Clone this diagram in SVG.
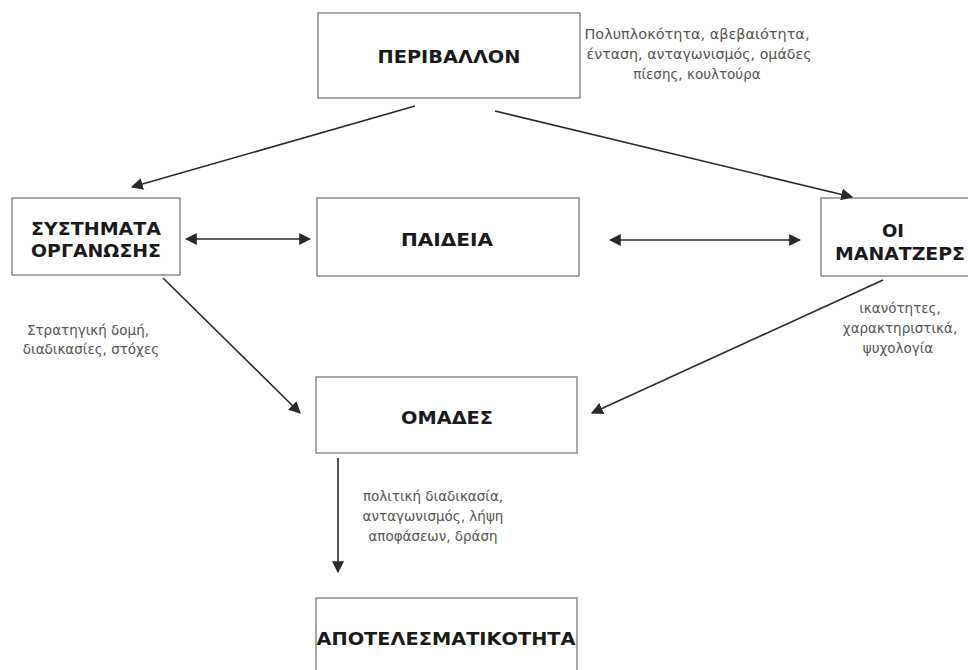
<svg xmlns="http://www.w3.org/2000/svg" width="968" height="670" viewBox="0 0 968 670">
<defs>
<style>
.box{fill:#fff;stroke:#8c8c8c;stroke-width:1.5}
.t{font-family:"DejaVu Sans","Noto Sans",sans-serif;font-weight:bold;font-size:18px;fill:#1a1a1a;text-anchor:middle}
.s{font-family:"DejaVu Sans","Noto Sans",sans-serif;font-size:13.5px;fill:#555;text-anchor:middle}
.c{stroke:#2a2a2a;stroke-width:1.6;fill:none}
</style>
<marker id="ah2" viewBox="0 0 10 10" refX="9" refY="5" markerWidth="12" markerHeight="12" markerUnits="userSpaceOnUse" orient="auto-start-reverse">
<path d="M0,0 L10,5 L0,10 z" fill="#2a2a2a"/>
</marker>
</defs>
<rect width="968" height="670" fill="#fff"/>

<g id="perivallon">
<rect class="box" x="318" y="13" width="262" height="85"/>
<text class="t" x="449" y="63" textLength="143" lengthAdjust="spacingAndGlyphs">ΠΕΡΙΒΑΛΛΟΝ</text>
</g>
<g id="perivallon-note">
<text class="s" x="697" y="39" textLength="225" lengthAdjust="spacingAndGlyphs">Πολυπλοκότητα, αβεβαιότητα,</text>
<text class="s" x="699" y="59" textLength="225" lengthAdjust="spacingAndGlyphs">ένταση, ανταγωνισμός, ομάδες</text>
<text class="s" x="697" y="79">πίεσης, κουλτούρα</text>
</g>

<g id="systimata">
<rect class="box" x="12" y="198" width="168" height="77"/>
<text class="t" x="96" y="235" textLength="130" lengthAdjust="spacingAndGlyphs">ΣΥΣΤΗΜΑΤΑ</text>
<text class="t" x="96" y="257" textLength="130" lengthAdjust="spacingAndGlyphs">ΟΡΓΑΝΩΣΗΣ</text>
</g>
<g id="systimata-note">
<text class="s" x="88" y="335">Στρατηγική δομή,</text>
<text class="s" x="91" y="354">διαδικασίες, στόχες</text>
</g>

<g id="paideia">
<rect class="box" x="317" y="198" width="262" height="78"/>
<text class="t" x="447" y="246" textLength="92" lengthAdjust="spacingAndGlyphs">ΠΑΙΔΕΙΑ</text>
</g>

<g id="manatzers">
<rect class="box" x="821" y="198" width="160" height="78"/>
<text class="t" x="893" y="237">ΟΙ</text>
<text class="t" x="900" y="260" textLength="130" lengthAdjust="spacingAndGlyphs">ΜΑΝΑΤΖΕΡΣ</text>
</g>
<g id="manatzers-note">
<text class="s" x="900" y="313">ικανότητες,</text>
<text class="s" x="900" y="333">χαρακτηριστικά,</text>
<text class="s" x="898" y="353">ψυχολογία</text>
</g>

<g id="omades">
<rect class="box" x="316" y="377" width="261" height="76"/>
<text class="t" x="447" y="424" textLength="92" lengthAdjust="spacingAndGlyphs">ΟΜΑΔΕΣ</text>
</g>
<g id="omades-note">
<text class="s" x="433" y="501">πολιτική διαδικασία,</text>
<text class="s" x="433" y="521">ανταγωνισμός, λήψη</text>
<text class="s" x="433" y="541">αποφάσεων, δράση</text>
</g>

<g id="apotelesmatikotita">
<rect class="box" x="316" y="598" width="261" height="90"/>
<text class="t" x="446" y="645" textLength="259" lengthAdjust="spacingAndGlyphs">ΑΠΟΤΕΛΕΣΜΑΤΙΚΟΤΗΤΑ</text>
</g>

<g id="connectors">
<line class="c" x1="415" y1="106" x2="132" y2="187" marker-end="url(#ah2)"/>
<line class="c" x1="495" y1="111" x2="852" y2="197" marker-end="url(#ah2)"/>
<line class="c" x1="186" y1="239" x2="310" y2="239" marker-start="url(#ah2)" marker-end="url(#ah2)"/>
<line class="c" x1="610" y1="240" x2="800" y2="240" marker-start="url(#ah2)" marker-end="url(#ah2)"/>
<line class="c" x1="163" y1="278" x2="300" y2="413" marker-end="url(#ah2)"/>
<line class="c" x1="883" y1="280" x2="592" y2="413" marker-end="url(#ah2)"/>
<line class="c" x1="338" y1="458" x2="338" y2="572" marker-end="url(#ah2)"/>
</g>
</svg>
